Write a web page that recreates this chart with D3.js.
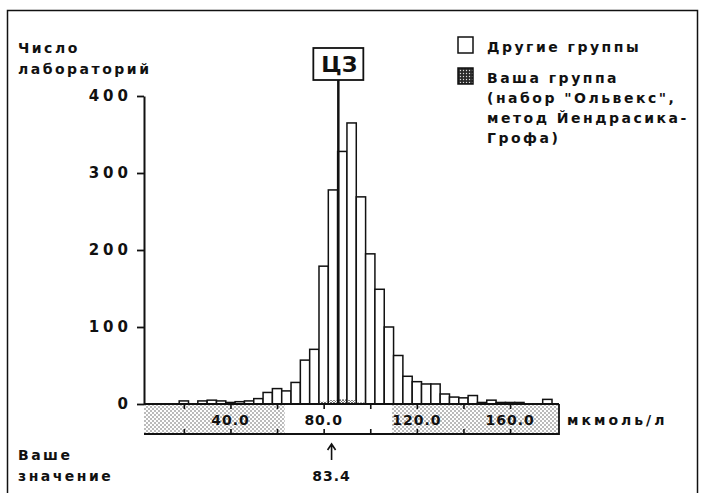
<!DOCTYPE html>
<html><head><meta charset="utf-8">
<script src="https://cdn.jsdelivr.net/npm/d3@7"></script>
<style>
body{margin:0;background:#fff}
svg{display:block}
text{font-family:"DejaVu Sans",sans-serif;font-weight:bold;fill:#111}
</style>
</head><body>
<svg id="chart" width="704" height="493"></svg>
<script>
// ---------- data ----------
const binStarts   = [18,22,26,30,34,38,42,46,50,54,58,62,66,70,74,78,82,86,90,94,98,102,106,110,114,118,122,126,130,134,138,142,146,150,154,158,162,166,170,174];
const otherGroups = [4,0,4,5,4,2,3,4,7,15,20,17,28,57,71,179,278,328,365,269,195,149,100,63,36,29,26,26,13,9,8,11,2,5,2,2,2,0,0,6];
const yourBins    = [78,82,86,90,94];
const yourGroup   = [3,5,6,5,2];
const binWidth    = 4;
const yTicks      = [0,100,200,300,400];
const xTickMarks  = [20,40,60,80,100,120,140,160];
const xTickLabels = [40,80,120,160];
const targetValue = 86.3;          // ЦЗ
const acceptRange = [63.3,109.3];
const yourValue   = 83.4;
const legendItems = ["Другие группы","Ваша группа"];
const legendNote  = ["(набор \"Ольвекс\",","метод Йендрасика-","Грофа)"];

// ---------- scales ----------
const svg = d3.select("#chart");
const x = d3.scaleLinear().domain([2.9,181]).range([144,559]);
const y = d3.scaleLinear().domain([0,400]).range([404,96]);
const bandBottom = 434;

// ---------- patterns ----------
const defs = svg.append("defs");
const pLight = defs.append("pattern").attr("id","light").attr("patternUnits","userSpaceOnUse").attr("width",4).attr("height",4);
pLight.append("rect").attr("width",4).attr("height",4).attr("fill","#fff");
pLight.append("circle").attr("cx",1).attr("cy",1).attr("r",0.75).attr("fill","#555");
pLight.append("circle").attr("cx",3).attr("cy",3).attr("r",0.75).attr("fill","#555");
const pDark = defs.append("pattern").attr("id","dark").attr("patternUnits","userSpaceOnUse").attr("width",3).attr("height",3);
pDark.append("rect").attr("width",3).attr("height",3).attr("fill","#2a2a2a");
pDark.append("circle").attr("cx",1.5).attr("cy",1.5).attr("r",0.7).attr("fill","#ddd");
const pMid = defs.append("pattern").attr("id","mid").attr("patternUnits","userSpaceOnUse").attr("width",3).attr("height",3);
pMid.append("rect").attr("width",3).attr("height",3).attr("fill","#fff");
pMid.append("circle").attr("cx",1).attr("cy",1).attr("r",0.9).attr("fill","#333");
pMid.append("circle").attr("cx",2.5).attr("cy",2.5).attr("r",0.6).attr("fill","#666");

// ---------- frame ----------
svg.append("rect").attr("x",7.5).attr("y",10.5).attr("width",690).attr("height",520)
  .attr("fill","none").attr("stroke","#111").attr("stroke-width",1.5);

// ---------- x band ----------
const band = svg.append("g");
band.append("rect").attr("x",x(2.9)).attr("y",y(0)).attr("width",x(181)-x(2.9)).attr("height",bandBottom-y(0))
  .attr("fill","url(#light)");
band.append("rect").attr("x",x(acceptRange[0])).attr("y",y(0)).attr("width",x(acceptRange[1])-x(acceptRange[0])).attr("height",bandBottom-y(0))
  .attr("fill","#fff");
band.append("path").attr("d",`M${x(2.9)},${bandBottom}H${x(181)}V${y(0)}`).attr("fill","none").attr("stroke","#111").attr("stroke-width",1.8);

const topTicks = svg.append("g").attr("transform",`translate(0,${y(0)})`)
  .call(d3.axisBottom(x).tickValues(xTickMarks).tickSize(5).tickFormat(""));
const botTicks = svg.append("g").attr("transform",`translate(0,${bandBottom})`)
  .call(d3.axisTop(x).tickValues(xTickMarks).tickSize(5).tickFormat(""));
[topTicks,botTicks].forEach(g=>{g.select(".domain").remove();g.selectAll("line").attr("stroke","#111").attr("stroke-width",1.6);});

svg.append("g").selectAll("text").data(xTickLabels).join("text")
  .attr("x",d=>x(d)).attr("y",425).attr("text-anchor","middle")
  .style("font-size","14px").style("letter-spacing","1px")
  .text(d=>d3.format(".1f")(d));

svg.append("text").attr("x",567).attr("y",425).style("font-size","14px").style("letter-spacing","3px").text("мкмоль/л");

// ---------- bars ----------
const data = binStarts.map((s,i)=>({s,v:otherGroups[i]})).filter(d=>d.v>0);
svg.append("g").selectAll("rect").data(data).join("rect")
  .attr("x",d=>x(d.s)).attr("width",d=>x(d.s+binWidth)-x(d.s))
  .attr("y",d=>y(d.v)).attr("height",d=>y(0)-y(d.v))
  .attr("fill","#fff").attr("stroke","#111").attr("stroke-width",1.5);
svg.append("g").selectAll("rect").data(yourBins.map((s,i)=>({s,v:yourGroup[i]}))).join("rect")
  .attr("x",d=>x(d.s)+1).attr("width",d=>x(d.s+binWidth)-x(d.s)-2)
  .attr("y",d=>y(d.v)).attr("height",d=>y(0)-y(d.v))
  .attr("fill","url(#mid)");

// ---------- y axis ----------
const yAxis = svg.append("g").attr("transform",`translate(${x(2.9)},0)`)
  .call(d3.axisLeft(y).tickValues(yTicks).tickSize(7).tickSizeOuter(0).tickPadding(5).tickFormat(d3.format("d")));
yAxis.select(".domain").attr("stroke","#111").attr("stroke-width",2);
yAxis.selectAll(".tick line").attr("stroke","#111").attr("stroke-width",1.8);
yAxis.selectAll(".tick text").style("font-size","15px").style("letter-spacing","4px")
  .style("font-family","'DejaVu Sans',sans-serif").style("font-weight","bold").attr("fill","#111");

// x baseline
svg.append("line").attr("x1",x(2.9)).attr("x2",x(181)).attr("y1",y(0)).attr("y2",y(0)).attr("stroke","#111").attr("stroke-width",2);

// ---------- ЦЗ ----------
svg.append("line").attr("x1",x(targetValue)).attr("x2",x(targetValue)).attr("y1",80).attr("y2",y(0))
  .attr("stroke","#111").attr("stroke-width",2.5);
svg.append("rect").attr("x",x(targetValue)-25).attr("y",48).attr("width",50).attr("height",32)
  .attr("fill","#fff").attr("stroke","#111").attr("stroke-width",1.8);
svg.append("text").attr("x",x(targetValue)+1).attr("y",72).attr("text-anchor","middle")
  .style("font-size","22px").text("ЦЗ");

// ---------- axis titles ----------
svg.append("text").attr("x",18).attr("y",53).style("font-size","14px").style("letter-spacing","2.5px").text("Число");
svg.append("text").attr("x",18).attr("y",74).style("font-size","14px").style("letter-spacing","2.5px").text("лабораторий");

// ---------- your value ----------
const ax = x(yourValue);
svg.append("path").attr("d",`M${ax},460V445M${ax-4},450L${ax},444L${ax+4},450`)
  .attr("fill","none").attr("stroke","#111").attr("stroke-width",1.6);
svg.append("text").attr("x",ax).attr("y",481).attr("text-anchor","middle").style("font-size","14px").style("letter-spacing","1px").text(d3.format(".1f")(yourValue));
svg.append("text").attr("x",18).attr("y",460).style("font-size","14px").style("letter-spacing","2.5px").text("Ваше");
svg.append("text").attr("x",18).attr("y",481).style("font-size","14px").style("letter-spacing","2.5px").text("значение");

// ---------- legend ----------
const lg = svg.append("g");
lg.append("rect").attr("x",458).attr("y",37).attr("width",15).attr("height",16).attr("fill","#fff").attr("stroke","#111").attr("stroke-width",1.5);
lg.append("rect").attr("x",458).attr("y",68).attr("width",15).attr("height",16).attr("fill","url(#dark)").attr("stroke","#111").attr("stroke-width",1.5);
lg.append("text").attr("x",487).attr("y",52).style("font-size","14px").style("letter-spacing","2.5px").text(legendItems[0]);
lg.append("text").attr("x",487).attr("y",83).style("font-size","14px").style("letter-spacing","2.5px").text(legendItems[1]);
lg.selectAll(".note").data(legendNote).join("text").attr("class","note")
  .attr("x",487).attr("y",(d,i)=>103+i*20).style("font-size","14px").style("letter-spacing","2.5px").text(d=>d);
</script>
</body></html>
